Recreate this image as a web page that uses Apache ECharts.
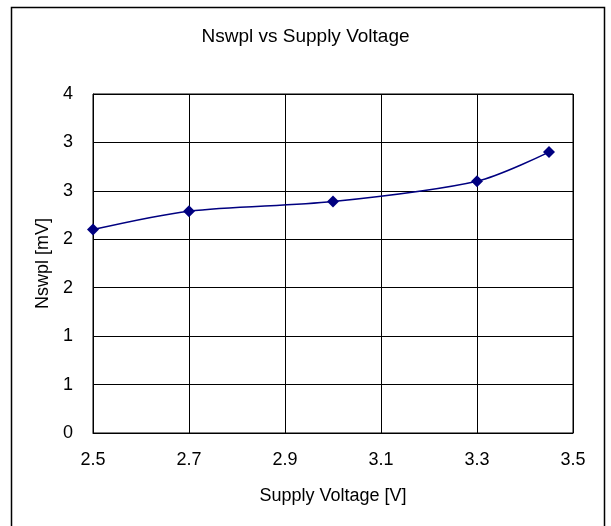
<!DOCTYPE html>
<html>
<head>
<meta charset="utf-8">
<script src="https://cdn.jsdelivr.net/npm/echarts@6/dist/echarts.min.js"></script>
<style>
html, body { margin: 0; padding: 0; background: #fff; }
#main { width: 611px; height: 526px; }
</style>
</head>
<body>
<div id="main"></div>
<script>
// supply voltage [V] and noise readings [mV]
const voltage = [2.5, 2.7, 3.0, 3.3, 3.45];
const nswpl = [2.10, 2.29, 2.39, 2.60, 2.90];

const points = voltage.map((v, i) => [v, nswpl[i]]);
const font = 'Liberation Sans, Arial, sans-serif';

const chart = echarts.init(document.getElementById('main'));
chart.setOption({
    animation: false,
    backgroundColor: '#fff',
    title: {
        text: 'Nswpl vs Supply Voltage',
        left: 'center',
        top: 22,
        textStyle: { fontFamily: font, fontSize: 19, fontWeight: 'normal', color: '#000' }
    },
    graphic: [{
        type: 'rect',
        shape: { x: 11.5, y: 7.5, width: 593, height: 540 },
        style: { fill: 'none', stroke: '#000', lineWidth: 1.5 },
        silent: true
    }],
    grid: {
        left: 93,
        right: 38,
        top: 94,
        bottom: 93,
        show: true,
        borderColor: '#000',
        borderWidth: 1
    },
    xAxis: {
        type: 'value',
        min: 2.5,
        max: 3.5,
        interval: 0.2,
        name: 'Supply Voltage [V]',
        nameLocation: 'middle',
        nameGap: 54,
        nameTextStyle: { fontFamily: font, fontSize: 18, color: '#000' },
        axisLine: { lineStyle: { color: '#000' } },
        axisTick: { show: false },
        axisLabel: { fontFamily: font, fontSize: 18, color: '#000', margin: 18,
            formatter: v => v.toFixed(1) },
        splitLine: { show: true, lineStyle: { color: '#000', width: 1 } }
    },
    yAxis: {
        type: 'value',
        min: 0,
        max: 3.5,
        interval: 0.5,
        name: 'Nswpl [mV]',
        nameLocation: 'middle',
        nameGap: 40,
        nameTextStyle: { fontFamily: font, fontSize: 18, color: '#000' },
        axisLine: { show: true, lineStyle: { color: '#000' } },
        axisTick: { show: false },
        axisLabel: { fontFamily: font, fontSize: 18, color: '#000', margin: 20,
            formatter: v => String(Math.round(v)) },
        splitLine: { show: true, lineStyle: { color: '#000', width: 1 } }
    },
    series: [{
        type: 'line',
        data: points,
        smooth: 0.3,
        symbol: 'diamond',
        symbolSize: 12,
        lineStyle: { color: '#000080', width: 1.5 },
        itemStyle: { color: '#000080' }
    }]
});
window.addEventListener('resize', function () {
    chart.resize();
});
</script>
</body>
</html>
